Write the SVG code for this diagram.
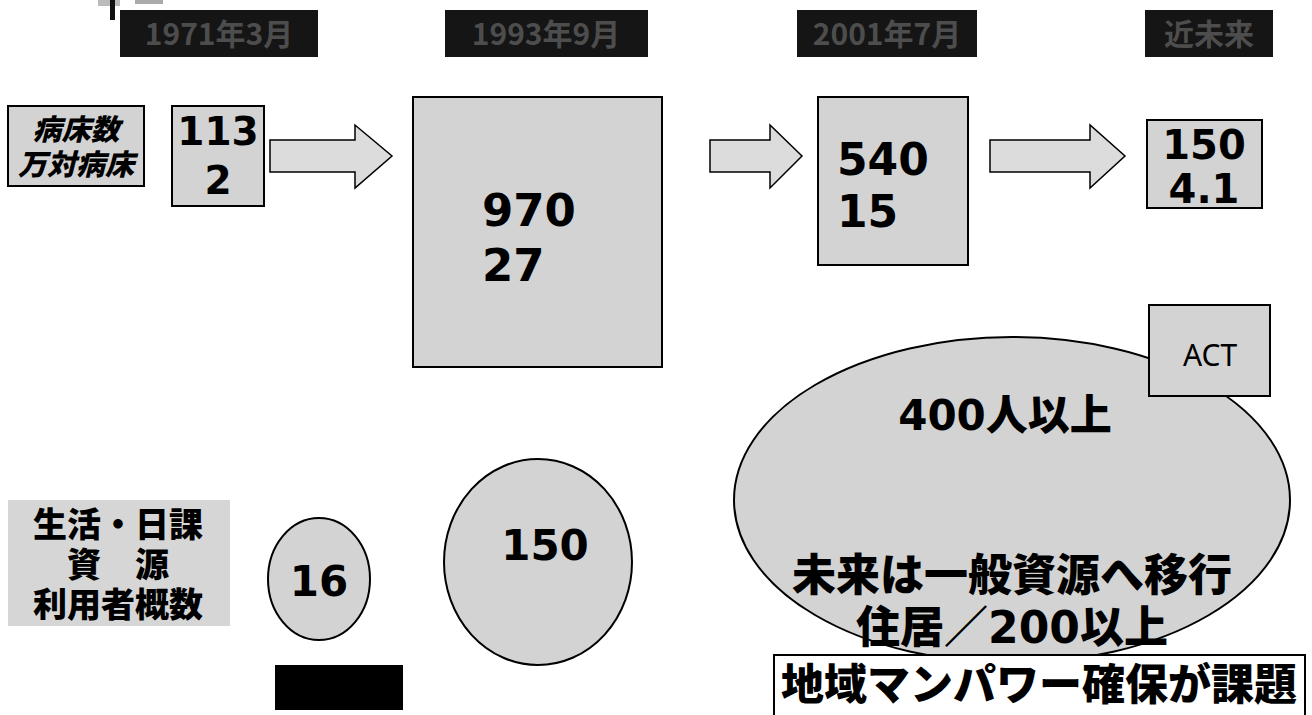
<svg xmlns="http://www.w3.org/2000/svg" width="1312" height="715" viewBox="0 0 1312 715">
<style>
.hdr{fill:#151515}
.hdrt{fill:#4d4d4d;font-family:"Noto Sans CJK JP","Noto Sans",sans-serif;font-size:30px;font-weight:700;text-anchor:middle}
.box{fill:#d3d3d3;stroke:#000;stroke-width:2}
.num{font-family:"DejaVu Sans",Verdana,sans-serif;font-weight:700;fill:#000}
.jp{font-family:"DejaVu Sans","Noto Sans CJK JP",sans-serif;font-weight:900;fill:#000}
.arr{fill:#dcdcdc;stroke:#000;stroke-width:1.5}
</style>
<rect width="1312" height="715" fill="#fff"/>
<g id="corner">
<rect x="98" y="0" width="22" height="6" fill="#bbb"/>
<rect x="135" y="0" width="28" height="4" fill="#aaa"/>
<rect x="110" y="0" width="5" height="20" fill="#111"/>
</g>
<g id="header1"><rect class="hdr" x="120" y="10" width="198" height="47"/><text class="hdrt" x="219" y="45">1971年3月</text></g>
<g id="header2"><rect class="hdr" x="445" y="10" width="203" height="47"/><text class="hdrt" x="546" y="45">1993年9月</text></g>
<g id="header3"><rect class="hdr" x="797" y="10" width="180" height="47"/><text class="hdrt" x="887" y="45">2001年7月</text></g>
<g id="header4"><rect class="hdr" x="1145" y="10" width="128" height="47"/><text class="hdrt" x="1209" y="45">近未来</text></g>

<g id="label-beds">
<rect class="box" x="8" y="106" width="136" height="80"/>
<text class="jp" font-size="29" font-style="italic" font-weight="700" text-anchor="middle"><tspan x="76" y="140">病床数</tspan><tspan x="76" y="175">万対病床</tspan></text>
</g>
<g id="beds-1971">
<rect class="box" x="172" y="106" width="92" height="100"/>
<text class="num" font-size="39" text-anchor="middle"><tspan x="218" y="145">113</tspan><tspan x="218" y="194">2</tspan></text>
</g>
<g id="beds-1993">
<rect class="box" x="413" y="97" width="249" height="270"/>
<text class="num" font-size="45"><tspan x="482" y="226">970</tspan><tspan x="482" y="281">27</tspan></text>
</g>
<g id="beds-2001">
<rect class="box" x="818" y="97" width="150" height="168"/>
<text class="num" font-size="44"><tspan x="837" y="175">540</tspan><tspan x="837" y="227">15</tspan></text>
</g>
<g id="beds-future">
<rect class="box" x="1147" y="120" width="115" height="88"/>
<text class="num" font-size="40" text-anchor="middle"><tspan x="1204" y="159">150</tspan><tspan x="1204" y="203">4.1</tspan></text>
</g>

<g id="connectors">
<path class="arr" d="M270,140 H355 V125 L392,156 L355,188 V172 H270 Z"/>
<path class="arr" d="M710,140 H770 V125 L802,156 L770,188 V172 H710 Z"/>
<path class="arr" d="M990,140 H1090 V125 L1125,156 L1090,188 V172 H990 Z"/>
</g>

<g id="label-resources">
<rect x="8" y="500" width="222" height="126" fill="#d6d6d6"/>
<text class="jp" font-size="34" text-anchor="middle" xml:space="preserve"><tspan x="118" y="537">生活・日課</tspan><tspan x="118" y="577">資　源</tspan><tspan x="118" y="617">利用者概数</tspan></text>
</g>
<g id="users-1971">
<ellipse class="box" cx="319" cy="579" rx="51" ry="61"/>
<text class="num" x="319" y="596" font-size="42" text-anchor="middle">16</text>
</g>
<g id="users-1993">
<ellipse class="box" cx="538" cy="562" rx="94" ry="103"/>
<text class="num" x="545" y="560" font-size="42" text-anchor="middle">150</text>
</g>
<g id="users-future">
<ellipse class="box" cx="1012" cy="500" rx="278" ry="163"/>
<text class="jp" x="1005" y="430" font-size="42" font-weight="700" text-anchor="middle">400人以上</text>
<text class="jp" font-size="44" text-anchor="middle"><tspan x="1012" y="591">未来は一般資源へ移行</tspan><tspan x="1012" y="643">住居／200以上</tspan></text>
</g>
<g id="act">
<rect class="box" x="1149" y="305" width="121" height="91"/>
<text x="1210" y="366" font-family="'Noto Sans','Open Sans',sans-serif" font-size="30" text-anchor="middle" fill="#000">ACT</text>
</g>
<g id="issue">
<rect x="774" y="655" width="531" height="70" fill="#fff" stroke="#000" stroke-width="2"/>
<text class="jp" x="1039" y="700" font-size="43" font-weight="700" text-anchor="middle">地域マンパワー確保が課題</text>
</g>
<g id="black-box"><rect x="275" y="665" width="128" height="45" fill="#000"/></g>
</svg>
